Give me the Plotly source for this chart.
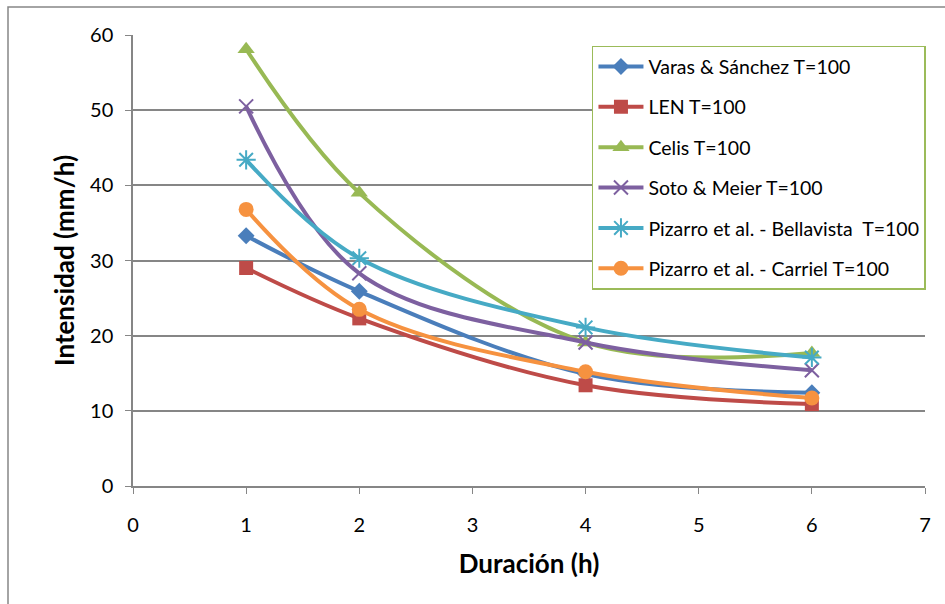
import plotly.graph_objects as go

duracion = [1, 2, 4, 6]
varas = [33.3, 25.9, 14.9, 12.4]
len_ = [29.0, 22.3, 13.4, 10.9]
celis = [58.1, 39.0, 19.1, 17.7]
soto = [50.5, 28.3, 19.1, 15.4]
bellavista = [43.4, 30.3, 21.1, 17.1]
carriel = [36.8, 23.5, 15.2, 11.7]

names = ["Varas & Sánchez T=100", "LEN T=100", "Celis T=100", "Soto & Meier T=100",
         "Pizarro et al. - Bellavista  T=100", "Pizarro et al. - Carriel T=100"]
series = [varas, len_, celis, soto, bellavista, carriel]
colors = ["#4A7EBB", "#BE4B48", "#98B954", "#7D60A0", "#46AAC5", "#F69240"]
symbols = ["diamond", "square", "triangle-up", "x-thin", "asterisk", "circle"]
sizes = [13, 14, 15, 14, 16, 15]

fig = go.Figure()
for i, (n, s) in enumerate(zip(names, series)):
    thin = symbols[i] in ("x-thin", "asterisk")
    fig.add_trace(go.Scatter(
        x=duracion, y=s, name=n, mode="lines+markers",
        line=dict(color=colors[i], width=4, shape="spline", smoothing=1.0),
        marker=dict(symbol=symbols[i], size=sizes[i], color=colors[i],
                    line=dict(color=colors[i], width=2 if thin else 0)),
        legendgroup=str(i),
    ))

font = "Lato, 'Open Sans', sans-serif"
fig.update_layout(
    width=945, height=604,
    margin=dict(l=133, r=20, t=35, b=118),
    paper_bgcolor="white", plot_bgcolor="white",
    font=dict(family=font, size=20, color="black"),
    showlegend=True,
    legend=dict(x=0.5795, y=0.976, xanchor="left", yanchor="top",
                bordercolor="#9BBB59", borderwidth=1.5, bgcolor="white",
                font=dict(size=19.5), tracegroupgap=12, itemwidth=45,
                traceorder="grouped"),
    xaxis=dict(range=[0, 7], dtick=1, showgrid=False, showline=True,
               linecolor="#868686", linewidth=1.5, ticks="outside", ticklen=6,
               tickcolor="#868686", zeroline=False, ticklabelstandoff=14,
               title=dict(text="<b>Duración (h)</b>", font=dict(size=26), standoff=20),
               tickfont=dict(size=20)),
    yaxis=dict(range=[0, 60], dtick=10, showgrid=True, gridcolor="#868686", gridwidth=1.5,
               showline=True, linecolor="#868686", linewidth=1.5, ticks="outside",
               ticklen=6, tickcolor="#868686", zeroline=False, ticklabelstandoff=8,
               title=dict(text="<b>Intensidad (mm/h)</b>", font=dict(size=26), standoff=8),
               tickfont=dict(size=20)),
    shapes=[dict(type="rect", xref="paper", yref="paper",
                 x0=-125/792, x1=1.2, y0=-0.5, y1=1 + 28/451,
                 line=dict(color="#868686", width=1.5), fillcolor="rgba(0,0,0,0)",
                 layer="below")],
)

fig.write_html("out.html")
